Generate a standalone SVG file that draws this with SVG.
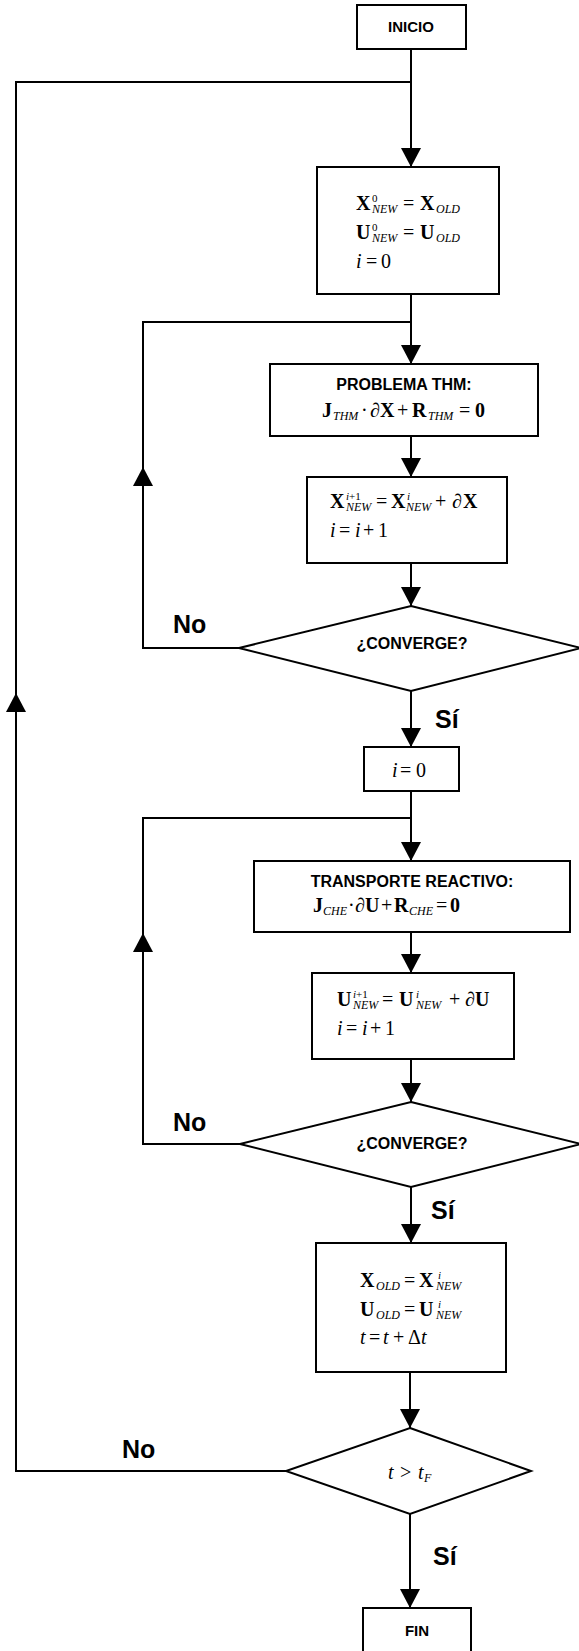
<svg xmlns="http://www.w3.org/2000/svg" width="579" height="1651" viewBox="0 0 579 1651">
<style>
.box{fill:#fff;stroke:#000;stroke-width:2}
.ln{fill:none;stroke:#000;stroke-width:2}
.lbl{font-family:"Liberation Sans",Arial,sans-serif;font-weight:bold;font-size:16px;text-anchor:middle}
.t15{font-size:15px}
.yn{font-family:"Liberation Sans",Arial,sans-serif;font-weight:bold;font-size:25px}
.m{font-family:"Liberation Serif","Times New Roman",serif;font-size:20px}
.b{font-weight:bold}
.it{font-style:italic}
.sub{font-size:12px;font-style:italic}
.sup{font-size:11px}
</style>
<defs>
<marker id="ah" viewBox="0 0 19 20" refX="19" refY="10" markerWidth="19" markerHeight="20" markerUnits="userSpaceOnUse" orient="auto"><path d="M0,0 L19,10 L0,20 Z" fill="#000"/></marker>
</defs>
<rect width="579" height="1651" fill="#fff"/>

<g id="connectors">
<path class="ln" d="M411,49 V167" marker-end="url(#ah)"/>
<path class="ln" d="M286,1471 H16 V693" marker-end="url(#ah)"/>
<path class="ln" d="M16,693 V82 H411"/>
<path class="ln" d="M411,294 V364" marker-end="url(#ah)"/>
<path class="ln" d="M239,648 H143 V467" marker-end="url(#ah)"/>
<path class="ln" d="M143,467 V322 H411"/>
<path class="ln" d="M411,436 V477" marker-end="url(#ah)"/>
<path class="ln" d="M411,563 V606" marker-end="url(#ah)"/>
<path class="ln" d="M411,691 V747" marker-end="url(#ah)"/>
<path class="ln" d="M411,791 V861" marker-end="url(#ah)"/>
<path class="ln" d="M240,1144 H143 V933" marker-end="url(#ah)"/>
<path class="ln" d="M143,933 V818 H411"/>
<path class="ln" d="M411,932 V973" marker-end="url(#ah)"/>
<path class="ln" d="M411,1059 V1102" marker-end="url(#ah)"/>
<path class="ln" d="M411,1187 V1243" marker-end="url(#ah)"/>
<path class="ln" d="M410,1372 V1428" marker-end="url(#ah)"/>
<path class="ln" d="M410,1514 V1608" marker-end="url(#ah)"/>
<text class="yn" x="173" y="633">No</text>
<text class="yn" x="435" y="728">Sí</text>
<text class="yn" x="173" y="1131">No</text>
<text class="yn" x="431" y="1219">Sí</text>
<text class="yn" x="122" y="1458">No</text>
<text class="yn" x="433" y="1565">Sí</text>
</g>

<g id="inicio">
<rect class="box" x="357" y="5" width="109" height="44"/>
<text class="lbl t15" x="411" y="32">INICIO</text>
</g>

<g id="init">
<rect class="box" x="317" y="167" width="182" height="127"/>
<text class="m"><tspan class="b" x="356" y="210">X</tspan><tspan class="sup" x="372" y="202">0</tspan><tspan class="sub" x="372" y="213">NEW</tspan><tspan x="403" y="210">=</tspan><tspan class="b" x="420" y="210">X</tspan><tspan class="sub" x="436" y="213">OLD</tspan></text>
<text class="m"><tspan class="b" x="356" y="239">U</tspan><tspan class="sup" x="372" y="231">0</tspan><tspan class="sub" x="372" y="242">NEW</tspan><tspan x="403" y="239">=</tspan><tspan class="b" x="420" y="239">U</tspan><tspan class="sub" x="436" y="242">OLD</tspan></text>
<text class="m"><tspan class="it" x="356" y="268">i</tspan><tspan x="366" y="268">=</tspan><tspan x="381" y="268">0</tspan></text>
</g>

<g id="thm">
<rect class="box" x="270" y="364" width="268" height="72"/>
<text class="lbl" x="404" y="390">PROBLEMA THM:</text>
<text class="m"><tspan class="b" x="322" y="417">J</tspan><tspan class="sub" x="333" y="420">THM</tspan><tspan x="361" y="417">·</tspan><tspan x="370" y="417">∂</tspan><tspan class="b" x="380" y="417">X</tspan><tspan x="397" y="417">+</tspan><tspan class="b" x="412" y="417">R</tspan><tspan class="sub" x="428" y="420">THM</tspan><tspan x="459" y="417">=</tspan><tspan class="b" x="475" y="417">0</tspan></text>
</g>

<g id="updX">
<rect class="box" x="307" y="477" width="200" height="86"/>
<text class="m"><tspan class="b" x="330" y="508">X</tspan><tspan class="sup" x="346" y="500"><tspan class="it">i</tspan>+1</tspan><tspan class="sub" x="346" y="511">NEW</tspan><tspan x="376" y="508">=</tspan><tspan class="b" x="391" y="508">X</tspan><tspan class="sup it" x="407" y="500">i</tspan><tspan class="sub" x="406" y="511">NEW</tspan><tspan x="435" y="508">+</tspan><tspan x="452" y="508">∂</tspan><tspan class="b" x="463" y="508">X</tspan></text>
<text class="m"><tspan class="it" x="330" y="537">i</tspan><tspan x="339" y="537">=</tspan><tspan class="it" x="355" y="537">i</tspan><tspan x="363" y="537">+</tspan><tspan x="378" y="537">1</tspan></text>
</g>

<g id="conv1">
<polygon class="box" points="411,606 581,648 411,691 239,648"/>
<text class="lbl" x="412" y="649">¿CONVERGE?</text>
</g>

<g id="reset">
<rect class="box" x="364" y="747" width="95" height="44"/>
<text class="m"><tspan class="it" x="392" y="777">i</tspan><tspan x="400" y="777">=</tspan><tspan x="416" y="777">0</tspan></text>
</g>

<g id="che">
<rect class="box" x="254" y="861" width="316" height="71"/>
<text class="lbl" x="412" y="887">TRANSPORTE REACTIVO:</text>
<text class="m"><tspan class="b" x="313" y="912">J</tspan><tspan class="sub" x="323" y="915">CHE</tspan><tspan x="348" y="912">·</tspan><tspan x="355" y="912">∂</tspan><tspan class="b" x="365" y="912">U</tspan><tspan x="381" y="912">+</tspan><tspan class="b" x="394" y="912">R</tspan><tspan class="sub" x="409" y="915">CHE</tspan><tspan x="436" y="912">=</tspan><tspan class="b" x="450" y="912">0</tspan></text>
</g>

<g id="updU">
<rect class="box" x="312" y="973" width="202" height="86"/>
<text class="m"><tspan class="b" x="337" y="1006">U</tspan><tspan class="sup" x="353" y="998"><tspan class="it">i</tspan>+1</tspan><tspan class="sub" x="353" y="1009">NEW</tspan><tspan x="382" y="1006">=</tspan><tspan class="b" x="399" y="1006">U</tspan><tspan class="sup it" x="416" y="998">i</tspan><tspan class="sub" x="416" y="1009">NEW</tspan><tspan x="449" y="1006">+</tspan><tspan x="465" y="1006">∂</tspan><tspan class="b" x="475" y="1006">U</tspan></text>
<text class="m"><tspan class="it" x="337" y="1035">i</tspan><tspan x="346" y="1035">=</tspan><tspan class="it" x="362" y="1035">i</tspan><tspan x="370" y="1035">+</tspan><tspan x="385" y="1035">1</tspan></text>
</g>

<g id="conv2">
<polygon class="box" points="411,1102 581,1144 411,1187 240,1144"/>
<text class="lbl" x="412" y="1149">¿CONVERGE?</text>
</g>

<g id="update">
<rect class="box" x="316" y="1243" width="190" height="129"/>
<text class="m"><tspan class="b" x="360" y="1287">X</tspan><tspan class="sub" x="376" y="1290">OLD</tspan><tspan x="404" y="1287">=</tspan><tspan class="b" x="419" y="1287">X</tspan><tspan class="sup it" x="438" y="1279">i</tspan><tspan class="sub" x="436" y="1290">NEW</tspan></text>
<text class="m"><tspan class="b" x="360" y="1316">U</tspan><tspan class="sub" x="376" y="1319">OLD</tspan><tspan x="404" y="1316">=</tspan><tspan class="b" x="419" y="1316">U</tspan><tspan class="sup it" x="438" y="1308">i</tspan><tspan class="sub" x="436" y="1319">NEW</tspan></text>
<text class="m"><tspan class="it" x="360" y="1344">t</tspan><tspan x="369" y="1344">=</tspan><tspan class="it" x="383" y="1344">t</tspan><tspan x="393" y="1344">+</tspan><tspan x="408" y="1344">Δ</tspan><tspan class="it" x="421" y="1344">t</tspan></text>
</g>

<g id="timecheck">
<polygon class="box" points="410,1428 531,1471 410,1514 286,1471"/>
<text class="m"><tspan class="it" x="388" y="1479">t</tspan><tspan x="400" y="1479">&gt;</tspan><tspan class="it" x="418" y="1479">t</tspan><tspan class="sub" x="424" y="1482">F</tspan></text>
</g>

<g id="fin">
<rect class="box" x="363" y="1608" width="108" height="44"/>
<text class="lbl t15" x="417" y="1636">FIN</text>
</g>
</svg>
